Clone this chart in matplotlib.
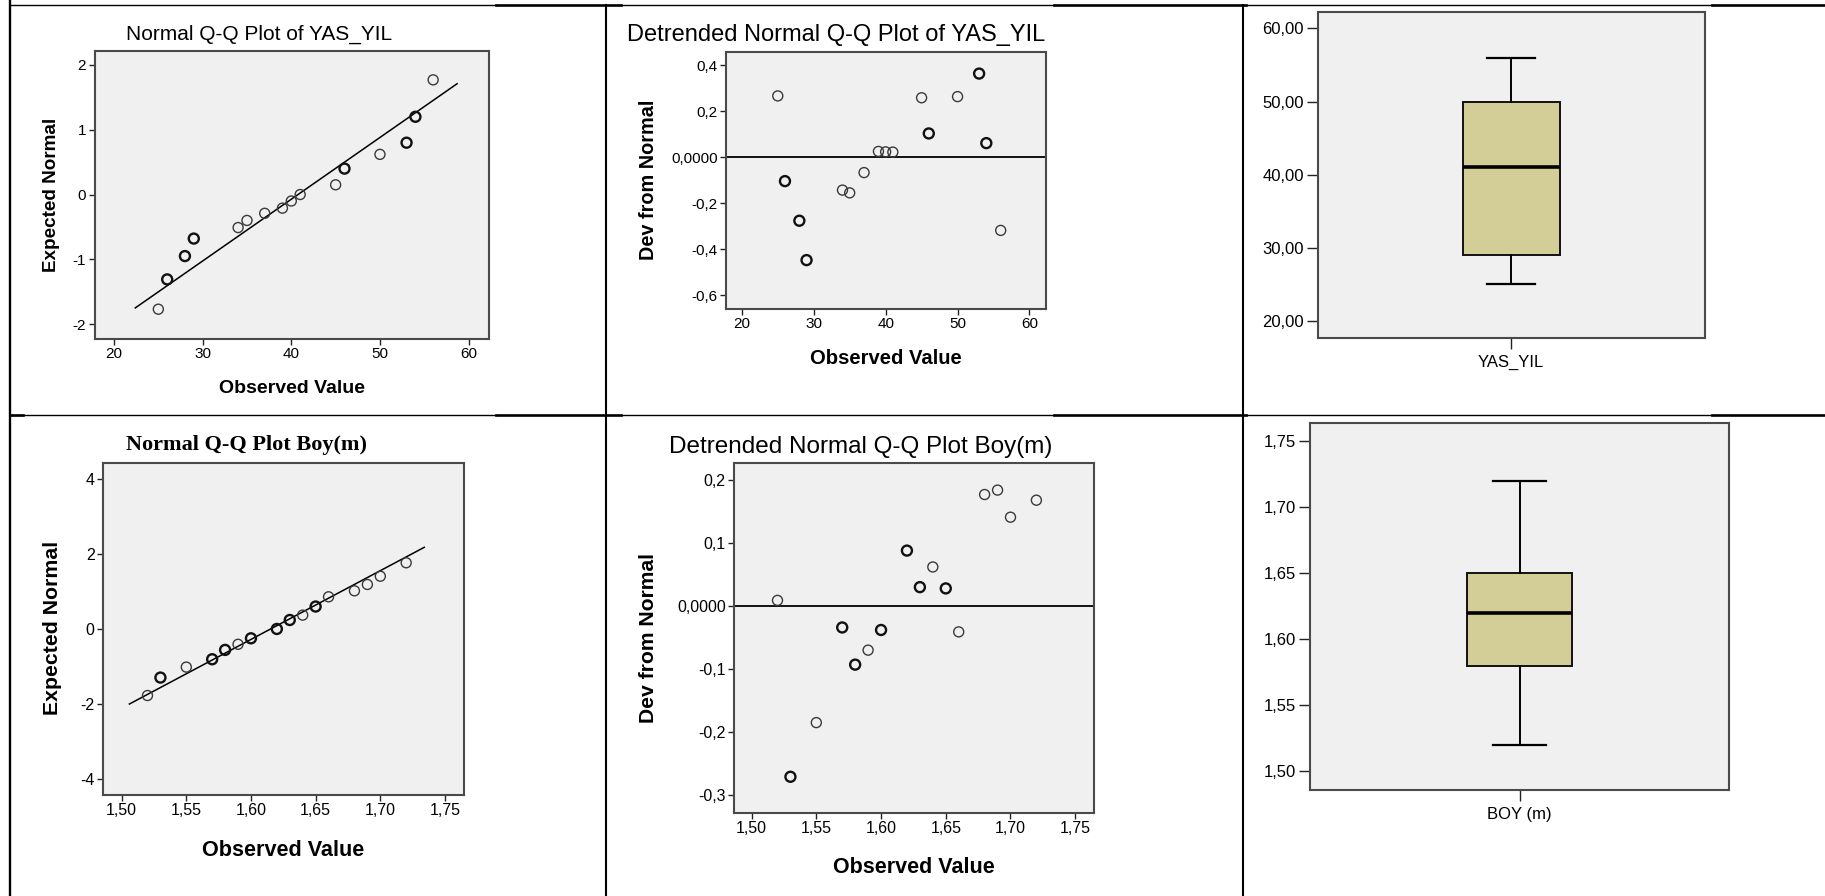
import matplotlib
matplotlib.use("Agg")
import matplotlib.pyplot as plt
import numpy as np
from matplotlib.ticker import FuncFormatter

plt.rcParams['font.family'] = ['Liberation Sans', 'DejaVu Sans']
plt.rcParams['axes.unicode_minus'] = False

W, H = 1825, 896

# YAS_YIL data
yas_obs = [25, 26, 28, 29, 34, 35, 37, 39, 40, 41, 45, 46, 50, 53, 54, 56]
yas_count = [1, 2, 2, 2, 1, 1, 1, 1, 1, 1, 1, 2, 1, 2, 2, 1]
yas_expected = [-1.77, -1.31, -0.95, -0.68, -0.51, -0.40, -0.29, -0.21,
                -0.10, 0.00, 0.15, 0.40, 0.62, 0.80, 1.20, 1.77]
yas_dev = [0.266, -0.104, -0.276, -0.447, -0.143, -0.155, -0.067, 0.025,
           0.023, 0.022, 0.258, 0.103, 0.263, 0.363, 0.061, -0.318]
yas_mean, yas_sd = 40.76, 10.49
yas_line_x = [22.4, 58.7]
yas_box = dict(whislo=25, q1=29, med=41, q3=50, whishi=56, label='YAS_YIL')

# BOY (m) data
boy_obs = [1.52, 1.53, 1.55, 1.57, 1.58, 1.59, 1.60, 1.62,
           1.63, 1.64, 1.65, 1.66, 1.68, 1.69, 1.70, 1.72]
boy_count = [1, 2, 1, 2, 2, 1, 2, 2, 2, 1, 2, 1, 1, 1, 1, 1]
boy_expected = [-1.78, -1.30, -1.02, -0.81, -0.56, -0.41, -0.25, 0.00,
                0.24, 0.37, 0.60, 0.86, 1.02, 1.19, 1.41, 1.77]
boy_dev = [0.009, -0.271, -0.185, -0.034, -0.093, -0.070, -0.038, 0.088,
           0.030, 0.062, 0.028, -0.041, 0.177, 0.184, 0.141, 0.168]
boy_mean, boy_sd = 1.6152, 0.0544
boy_line_x = [1.506, 1.734]
boy_box = dict(whislo=1.52, q1=1.58, med=1.62, q3=1.65, whishi=1.72, label='BOY (m)')

BG = '#f0f0f0'
BOXFILL = '#d3ce98'


def comma(fmt):
    return FuncFormatter(lambda v, p: fmt.format(v).replace('.', ','))


def add_ax(fig, l, t, r, b):
    return fig.add_axes([l / W, 1 - b / H, (r - l) / W, (b - t) / H])


def style(ax, tick_len=4, size=11):
    ax.set_facecolor(BG)
    for s in ax.spines.values():
        s.set_color('#4a4a4a')
        s.set_linewidth(1.5)
    ax.tick_params(direction='out', length=tick_len, width=1, color='#222222',
                   labelsize=size, pad=2, top=False, right=False)


def ftext(fig, x, y, s, **kw):
    fig.text(x / W, 1 - y / H, s, ha='center', va='center', **kw)


def points(ax, x, y, count):
    lw = [1.0 if c == 1 else 1.7 for c in count]
    ec = ['#3a3a3a' if c == 1 else '#111111' for c in count]
    ax.scatter(x, y, s=52, facecolors='none', edgecolors=ec, linewidths=lw, zorder=3)


def box(ax, stats):
    ax.bxp([stats], positions=[1], widths=0.5, capwidths=[0.25], patch_artist=True,
           showfliers=False,
           boxprops=dict(facecolor=BOXFILL, edgecolor='#111111', linewidth=1.4),
           medianprops=dict(color='black', linewidth=2.6),
           whiskerprops=dict(color='black', linewidth=1.4),
           capprops=dict(color='black', linewidth=1.6))
    ax.set_xlim(0, 2)
    ax.set_xticks([1])
    ax.set_xticklabels([stats['label']])


fig = plt.figure(figsize=(W / 100, H / 100), dpi=100)

# table grid
grid = fig.add_axes([0, 0, 1, 1])
grid.set_xlim(0, W)
grid.set_ylim(H, 0)
grid.axis('off')
thin, thick = 1.0, 1.9
grid.plot([10, 10], [0, H], color='black', lw=1.7)
grid.plot([606, 606], [5, H], color='black', lw=1.5)
grid.plot([1243, 1243], [5, H], color='black', lw=1.5)
for y0 in (5, 415):
    for a, b in [(10, 496), (621, 1054), (1246, 1712)]:
        grid.plot([a, b], [y0, y0], color='black', lw=thin)
    for a, b in [(496, 621), (1054, 1246), (1712, W)]:
        grid.plot([a, b], [y0, y0], color='black', lw=thick)
grid.plot([10, 23], [415, 415], color='black', lw=thick)

# 1: Normal Q-Q YAS_YIL
ax1 = add_ax(fig, 94.5, 50.7, 489, 339)
style(ax1)
points(ax1, yas_obs, yas_expected, yas_count)
lx = np.array(yas_line_x)
ax1.plot(lx, (lx - yas_mean) / yas_sd, color='black', lw=1.1, zorder=2)
ax1.set_xlim(17.8, 62.3)
ax1.set_ylim(-2.23, 2.22)
ax1.set_xticks([20, 30, 40, 50, 60])
ax1.set_yticks([-2, -1, 0, 1, 2])
ftext(fig, 259, 34, 'Normal Q-Q Plot of YAS_YIL', fontsize=15)
ftext(fig, 292, 388, 'Observed Value', fontsize=14, fontweight='bold')
ftext(fig, 52, 195, 'Expected Normal', fontsize=13.6, fontweight='bold', rotation=90)

# 2: Detrended YAS_YIL
ax2 = add_ax(fig, 726, 51.7, 1046, 308.7)
style(ax2)
ax2.axhline(0, color='black', lw=1.3, zorder=2)
points(ax2, yas_obs, yas_dev, yas_count)
ax2.set_xlim(17.8, 62.3)
ax2.set_ylim(-0.658, 0.458)
ax2.set_xticks([20, 30, 40, 50, 60])
ax2.set_yticks([-0.6, -0.4, -0.2, 0.0, 0.2, 0.4])
ax2.yaxis.set_major_formatter(FuncFormatter(
    lambda v, p: '0,0000' if abs(v) < 1e-9 else f'{v:.1f}'.replace('.', ',')))
ftext(fig, 836, 35, 'Detrended Normal Q-Q Plot of YAS_YIL', fontsize=17)
ftext(fig, 886, 359, 'Observed Value', fontsize=14.6, fontweight='bold')
ftext(fig, 648, 180, 'Dev from Normal', fontsize=14.3, fontweight='bold', rotation=90)

# 3: Boxplot YAS_YIL
ax3 = add_ax(fig, 1318, 11.7, 1704.5, 337.7)
style(ax3, tick_len=8, size=12)
box(ax3, yas_box)
ax3.set_ylim(17.72, 62.28)
ax3.set_yticks([20, 30, 40, 50, 60])
ax3.yaxis.set_major_formatter(comma('{:.2f}'))
ax3.tick_params(axis='x', pad=4)

# 4: Normal Q-Q Boy
ax4 = add_ax(fig, 103, 462.7, 464, 795)
style(ax4, size=11.5)
points(ax4, boy_obs, boy_expected, boy_count)
lx = np.array(boy_line_x)
ax4.plot(lx, (lx - boy_mean) / boy_sd, color='black', lw=1.1, zorder=2)
ax4.set_xlim(1.4856, 1.7647)
ax4.set_ylim(-4.44, 4.446)
ax4.set_xticks([1.50, 1.55, 1.60, 1.65, 1.70, 1.75])
ax4.set_yticks([-4, -2, 0, 2, 4])
ax4.xaxis.set_major_formatter(comma('{:.2f}'))
ftext(fig, 246, 445, 'Normal Q-Q Plot Boy(m)', fontsize=16, fontweight='bold',
      family='Liberation Serif')
ftext(fig, 283, 850, 'Observed Value', fontsize=15.6, fontweight='bold')
ftext(fig, 52.5, 628, 'Expected Normal', fontsize=15.3, fontweight='bold', rotation=90)

# 5: Detrended Boy
ax5 = add_ax(fig, 734, 462.7, 1093.6, 812.7)
style(ax5, size=11.5)
ax5.axhline(0, color='black', lw=1.3, zorder=2)
points(ax5, boy_obs, boy_dev, boy_count)
ax5.set_xlim(1.4864, 1.7642)
ax5.set_ylim(-0.328, 0.2275)
ax5.set_xticks([1.50, 1.55, 1.60, 1.65, 1.70, 1.75])
ax5.set_yticks([-0.3, -0.2, -0.1, 0.0, 0.1, 0.2])
ax5.xaxis.set_major_formatter(comma('{:.2f}'))
ax5.yaxis.set_major_formatter(FuncFormatter(
    lambda v, p: '0,0000' if abs(v) < 1e-9 else f'{v:.1f}'.replace('.', ',')))
ftext(fig, 861, 447, 'Detrended Normal Q-Q Plot Boy(m)', fontsize=17.5)
ftext(fig, 914, 867, 'Observed Value', fontsize=15.5, fontweight='bold')
ftext(fig, 649, 638, 'Dev from Normal', fontsize=15.2, fontweight='bold', rotation=90)

# 6: Boxplot Boy
ax6 = add_ax(fig, 1310, 423.3, 1729, 790)
style(ax6, tick_len=8, size=12)
box(ax6, boy_box)
ax6.set_ylim(1.4859, 1.7634)
ax6.set_yticks([1.50, 1.55, 1.60, 1.65, 1.70, 1.75])
ax6.yaxis.set_major_formatter(comma('{:.2f}'))
ax6.tick_params(axis='x', pad=4)

fig.savefig('out.png', dpi=100, facecolor='white')
